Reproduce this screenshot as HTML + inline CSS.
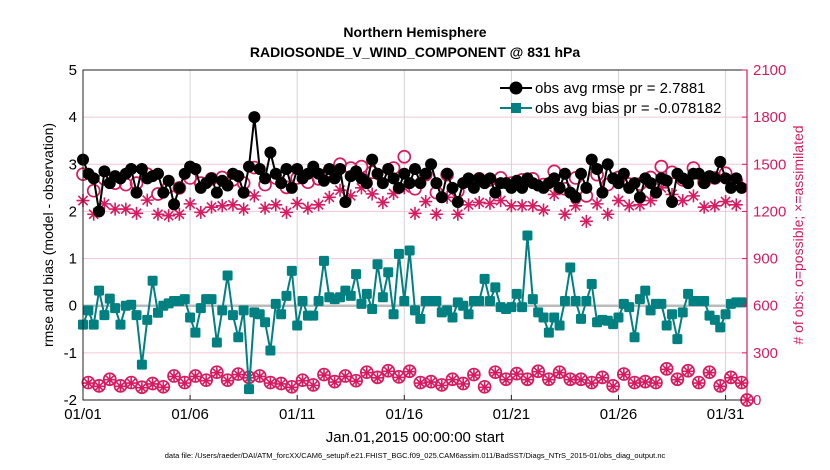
<!DOCTYPE html>
<html><head><meta charset="utf-8">
<style>
html,body{margin:0;padding:0;background:#fff;}
svg{display:block;font-family:"Liberation Sans",sans-serif;}
</style></head>
<body>
<svg id="chart" width="830" height="470" viewBox="0 0 830 470" xmlns="http://www.w3.org/2000/svg">
<text x="415" y="37" text-anchor="middle" font-size="14" font-weight="bold">Northern Hemisphere</text>
<text x="415" y="57" text-anchor="middle" font-size="14" font-weight="bold">RADIOSONDE_V_WIND_COMPONENT @ 831 hPa</text>
<g id="grid"></g>
<g id="series"></g>
<rect x="83" y="70" width="664" height="330" fill="none" stroke="#222" stroke-width="1"/>
<line x1="747" y1="70" x2="747" y2="400" stroke="#d81b60" stroke-width="1.2"/>
<g id="axes"></g>
<text transform="translate(53,235) rotate(-90)" text-anchor="middle" font-size="14">rmse and bias (model - observation)</text>
<text transform="translate(803,235) rotate(-90)" text-anchor="middle" font-size="14" fill="#d81b60"># of obs: o=possible; ×=assimilated</text>
<text x="415" y="442" text-anchor="middle" font-size="15">Jan.01,2015 00:00:00 start</text>
<text x="415" y="458" text-anchor="middle" font-size="7.5">data file: /Users/raeder/DAI/ATM_forcXX/CAM6_setup/f.e21.FHIST_BGC.f09_025.CAM6assim.011/BadSST/Diags_NTrS_2015-01/obs_diag_output.nc</text>
<g id="legend"></g>
</svg>
<script>
const xTickLabels=["01/01","01/06","01/11","01/16","01/21","01/26","01/31"];
const xTickDays=[0,5,10,15,20,25,30];
const yTicks=[-2,-1,0,1,2,3,4,5];
const rTicks=[0,300,600,900,1200,1500,1800,2100];
const rmse=[3.1,2.8,2.7,2.0,2.85,2.6,2.75,2.7,2.8,2.9,2.4,2.9,2.7,2.75,2.8,2.4,2.65,2.15,2.5,2.8,2.95,2.9,2.5,2.6,2.7,2.4,2.65,2.55,2.8,2.75,2.4,2.95,
4.0,2.9,2.7,3.25,2.8,2.6,2.9,2.5,2.9,2.7,2.8,2.95,2.8,2.65,2.9,2.7,2.9,2.2,2.75,2.85,2.7,2.6,3.1,2.8,2.6,2.9,2.7,2.5,2.8,2.6,2.9,2.6,
2.8,3.0,2.6,2.3,2.8,2.5,2.2,2.6,2.7,2.5,2.7,2.6,2.7,2.4,2.6,2.6,2.5,2.65,2.5,2.7,2.6,2.55,2.5,2.6,2.7,2.5,2.8,2.4,2.3,2.8,2.5,3.1,
2.9,2.4,3.0,2.7,2.6,2.8,2.5,2.6,2.3,2.7,2.6,2.4,2.7,2.65,2.2,2.8,2.7,2.6,2.8,2.8,2.6,2.75,2.7,3.05,2.7,2.5,2.7,2.5];
const bias=[-0.4,-0.1,-0.4,0.32,-0.2,0.15,-0.05,-0.4,0.0,0.02,-0.2,-1.25,-0.3,0.53,-0.15,0.0,0.05,0.1,0.1,0.14,-0.25,-0.57,-0.05,0.14,0.14,-0.78,-0.1,0.64,-0.2,-0.67,-0.1,-1.77,
-0.14,-0.18,-0.35,-0.95,0.04,-0.18,0.21,0.74,-0.42,0.1,-0.21,-0.21,0.1,0.95,0.18,0.14,0.18,0.32,0.21,0.67,0.04,0.25,-0.07,0.88,0.18,0.71,-0.18,1.1,0.1,1.17,-0.1,-0.28,
0.1,0.1,0.1,-0.14,-0.1,-0.25,0.07,0.0,-0.18,0.1,0.1,0.57,0.1,0.39,-0.03,-0.07,-0.03,0.25,-0.03,1.49,0.14,-0.14,-0.25,-0.57,-0.25,-0.42,0.1,0.81,0.1,-0.28,0.1,0.46,
-0.35,-0.3,-0.32,-0.39,-0.25,0.04,-0.03,-0.67,0.14,0.32,-0.1,0.04,0.04,-0.42,-0.18,-0.71,-0.14,0.25,0.1,0.1,0.1,-0.21,-0.3,-0.46,-0.18,0.04,0.07,0.07];
const possibleMain=[1437,1332,1407,1380,1371,1380,1437,1311,1356,1350,1413,1380,1407,1416,1401,1380,
1479,1371,1413,1353,1413,1386,1407,1458,1500,1476,1485,1449,1416,1476,1548,1344,
1434,1320,1434,1329,1392,1407,1401,1413,1380,1401,1407,1371,1455,1344,1413,1299,
1434,1371,1416,1374,1374,1416,1485,1449,1401,1476,1386,1413,1443,1392,0];
const assimMain=[1269,1182,1248,1215,1215,1188,1272,1182,1173,1182,1248,1194,1227,1236,1242,1215,
1299,1221,1242,1194,1251,1221,1242,1290,1335,1299,1350,1311,1257,1314,1350,1188,
1263,1182,1290,1182,1242,1257,1251,1269,1236,1236,1236,1209,1308,1182,1236,1137,
1248,1182,1269,1236,1242,1269,1350,1308,1269,1299,1227,1236,1263,1242,0];
const possibleOff=[111,90,132,90,111,81,105,84,153,111,153,126,177,126,165,144,
153,111,105,84,126,96,162,117,153,123,177,144,186,147,183,111,
117,96,132,105,162,84,177,132,168,132,183,132,177,132,132,
111,144,90,165,111,117,111,198,132,186,111,177,90,144,111];
const assimOff=[108,87,129,87,108,78,102,81,150,108,150,123,174,123,162,141,
150,108,102,81,123,93,159,114,150,120,174,141,183,144,180,108,
114,93,129,102,159,81,174,129,165,129,180,129,174,129,129,
108,141,87,162,108,114,108,195,129,183,108,174,87,141,108];

const NS="http://www.w3.org/2000/svg";
const X0=83,X1=747,Y0=70,Y1=400,DAYS=31;
function xs(d){return X0+(d/DAYS)*(X1-X0);}
function ys(v){return Y1-(v+2)/7*(Y1-Y0);}
function yr(c){return Y1-c/2100*(Y1-Y0);}
function mk(tag,attrs,parent){const e=document.createElementNS(NS,tag);for(const k in attrs)e.setAttribute(k,attrs[k]);parent.appendChild(e);return e;}
const grid=document.getElementById('grid'),axes=document.getElementById('axes'),ser=document.getElementById('series'),leg=document.getElementById('legend');
const MAG="#d81b60",TEAL="#008080";

rTicks.forEach((c,i)=>{if(c>0&&c<2100){const l=mk('line',{x1:X0,x2:X1,y1:yr(c),y2:yr(c),stroke:"#f3c6d6","stroke-width":1},grid);

}});
xTickDays.forEach((d,i)=>{const l=mk('line',{x1:xs(d),x2:xs(d),y1:Y0,y2:Y1,stroke:"#d4d4d4","stroke-width":1},grid);


const t=mk('text',{x:xs(d),y:419,"text-anchor":"middle","font-size":15},axes);t.textContent=xTickLabels[i];


const tk=mk('line',{x1:xs(d),x2:xs(d),y1:Y1,y2:Y1-5,stroke:"#222"},axes);

});
const zl=mk('line',{x1:X0,x2:X1,y1:ys(0),y2:ys(0),stroke:"#bbb","stroke-width":2.5},grid);


yTicks.forEach(v=>{const t=mk('text',{x:77,y:ys(v)+5,"text-anchor":"end","font-size":15},axes);t.textContent=v;

});
rTicks.forEach(c=>{const t=mk('text',{x:753,y:yr(c)+5,"text-anchor":"start","font-size":15,fill:MAG},axes);t.textContent=c;


const tk=mk('line',{x1:X1,x2:X1-5,y1:yr(c),y2:yr(c),stroke:MAG},axes);

});

function star(g,cx,cy,r){let d="";for(let k=0;k<4;k++){const a=k*Math.PI/4;d+=`M${cx-r*Math.cos(a)},${cy-r*Math.sin(a)}L${cx+r*Math.cos(a)},${cy+r*Math.sin(a)}`;}
return mk('path',{d:d,stroke:MAG,"stroke-width":1.6,fill:"none"},g);}

possibleMain.forEach((c,i)=>{const d=i*0.5;const e=mk('circle',{cx:xs(d),cy:yr(c),r:6,fill:"none",stroke:MAG,"stroke-width":1.7},ser);

});
assimMain.forEach((c,i)=>{const d=i*0.5;const e=star(ser,xs(d),yr(c),c>0?6.5:5.5);

});
possibleOff.forEach((c,i)=>{const d=0.25+i*0.5;const e=mk('circle',{cx:xs(d),cy:yr(c),r:6,fill:"none",stroke:MAG,"stroke-width":1.7},ser);

});
assimOff.forEach((c,i)=>{const d=0.25+i*0.5;const e=star(ser,xs(d),yr(c),5.5);

});

const bp=mk('polyline',{points:bias.map((v,i)=>xs(i*0.25)+","+ys(v)).join(" "),fill:"none",stroke:TEAL,"stroke-width":2},ser);


bias.forEach((v,i)=>{const e=mk('rect',{x:xs(i*0.25)-5,y:ys(v)-5,width:10,height:10,rx:1.5,fill:TEAL},ser);

});
const rp=mk('polyline',{points:rmse.map((v,i)=>xs(i*0.25)+","+ys(v)).join(" "),fill:"none",stroke:"#000","stroke-width":2},ser);


rmse.forEach((v,i)=>{const e=mk('circle',{cx:xs(i*0.25),cy:ys(v),r:6,fill:"#000"},ser);

});

const ll1=mk('line',{x1:500,x2:532,y1:88,y2:88,stroke:"#000","stroke-width":2},leg);


const lm1=mk('circle',{cx:516,cy:88,r:6.5,fill:"#000"},leg);


const lt1=mk('text',{x:535,y:93,"font-size":15},leg);lt1.textContent="obs avg rmse pr = 2.7881";


const ll2=mk('line',{x1:500,x2:532,y1:108,y2:108,stroke:TEAL,"stroke-width":2},leg);


const lm2=mk('rect',{x:511,y:103,width:10,height:10,fill:TEAL},leg);


const lt2=mk('text',{x:535,y:113,"font-size":15},leg);lt2.textContent="obs avg bias pr = -0.078182";


</script>
</body></html>
